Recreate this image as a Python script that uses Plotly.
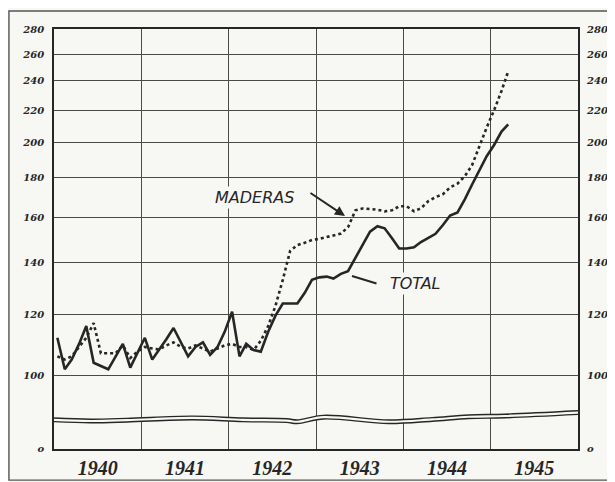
import plotly.graph_objects as go
import pandas as pd

# ---------------- data ----------------
months = pd.date_range("1940-01-01", periods=63, freq="MS") + pd.Timedelta(days=14)
months = [d.strftime("%Y-%m-%d") for d in months]

total = [112, 102, 105, 110, 116, 104, 103, 102, 106, 110, 102.5, 107,
         112, 105, 108, 111.5, 115.3, 110.5, 106, 109, 110.5, 106.5, 109, 114,
         121, 106, 110, 108, 107.5, 114, 119.5, 124, 124, 124, 128, 133,
         134, 134.3, 133.5, 135.4, 136.5, 142, 148, 153.5, 156, 155, 150.5, 146,
         146, 146.5, 148.8, 150.5, 152.5, 156.5, 161, 162.5, 169, 176.5, 184, 192,
         198.5, 206.5, 211]

maderas = [106, 105, 106, 109, 112, 117, 107, 107, 107, 109.5, 105.5, 107.5,
           109, 108.5, 108.2, 109.5, 110.5, 109, 108.5, 109.5, 108.5, 107.5, 108.5, 109.5,
           110, 109, 109, 108, 111, 116, 123, 133, 145, 147.5, 148.5, 149.7,
           150.2, 151, 152, 152.6, 155.5, 163.5, 164.4, 164.2, 163.8, 163, 163.5, 165.5,
           165.5, 163, 164.5, 168, 170, 171.5, 175, 177, 181, 187, 198, 209,
           220, 233, 247]

break_x = ["1940-01-01", "1940-06-01", "1940-11-01", "1941-08-01", "1942-03-01",
           "1942-09-01", "1942-10-15", "1943-02-01", "1943-11-01", "1944-05-01",
           "1944-10-01", "1945-03-01", "1946-01-01"]
break_y = [87.8, 87.5, 87.7, 88.3, 87.8, 87.6, 87.3, 88.5, 87.3, 87.9, 88.6, 88.8, 89.7]

y_ticks = [80.55, 100, 120, 140, 160, 180, 200, 220, 240, 260, 280]
y_labels = ["o", "100", "120", "140", "160", "180", "200", "220", "240", "260", "280"]

# ---------------- figure ----------------
INK = "#262626"
BG = "#f7f7f4"
GRID = "#4a4a4a"

fig = go.Figure()

# axis break (double wavy line)
fig.add_trace(go.Scatter(x=break_x, y=break_y, mode="lines",
                         line=dict(color=INK, width=5, shape="spline"),
                         hoverinfo="skip", showlegend=False))
fig.add_trace(go.Scatter(x=break_x, y=break_y, mode="lines",
                         line=dict(color=BG, width=2.2, shape="spline"),
                         hoverinfo="skip", showlegend=False))

fig.add_trace(go.Scatter(x=months, y=maderas, mode="lines", name="MADERAS",
                         line=dict(color=INK, width=2.6, dash="dot")))
fig.add_trace(go.Scatter(x=months, y=total, mode="lines", name="TOTAL",
                         line=dict(color=INK, width=2.6)))

# invisible trace for right axis
fig.add_trace(go.Scatter(x=[months[0]], y=[100], yaxis="y2", mode="markers",
                         marker=dict(opacity=0), hoverinfo="skip", showlegend=False))

yfont = dict(family="DejaVu Serif", size=10, color=INK, style="italic", weight="bold")
yrange = [1.9059, 2.4472]

# page body has an 8px margin: plot area lands at x 54..578, y 29..449
fig.update_layout(
    width=615, height=482,
    margin=dict(l=46, r=45, t=21, b=41, autoexpand=False),
    paper_bgcolor=BG, plot_bgcolor=BG,
    showlegend=False,
    xaxis=dict(type="date", range=["1940-01-01", "1946-01-01"],
               tick0="1940-01-01", dtick="M12", tickformat="%Y", automargin=False,
               ticklabelmode="period", showgrid=True, gridcolor=GRID, gridwidth=1.4,
               showline=True, linecolor=INK, linewidth=1.6, mirror=True,
               ticks="", ticklabelstandoff=0,
               tickfont=dict(family="Liberation Serif", size=20, color=INK,
                             style="italic", weight="bold")),
    yaxis=dict(type="log", range=yrange, tickmode="array", automargin=False,
               tickvals=y_ticks, ticktext=y_labels,
               showgrid=True, gridcolor=GRID, gridwidth=1.4,
               showline=True, linecolor=INK, linewidth=1.6, mirror=True,
               ticks="", ticklabelstandoff=6, tickfont=yfont),
    yaxis2=dict(type="log", range=yrange, tickmode="array", automargin=False,
                tickvals=y_ticks, ticktext=y_labels, overlaying="y", side="right",
                showgrid=False, ticks="", ticklabelstandoff=8, tickfont=yfont),
)

# heavy 100 line
fig.add_shape(type="line", xref="paper", yref="y", x0=0, x1=1, y0=2, y1=2,
              line=dict(color=INK, width=2.6))

# outer frame
fig.add_shape(type="rect", xref="paper", yref="paper",
              x0=-0.086, x1=1.09, y0=-0.074, y1=1.043,
              line=dict(color="#555", width=1.4))

lab_font = dict(family="DejaVu Sans", size=16, color=INK, style="italic")
fig.add_annotation(xref="paper", yref="paper", x=(213 - 54) / 524, xanchor="left",
                   y=(449 - 197) / 420, text="MADERAS", showarrow=False,
                   font=lab_font, bgcolor=BG)
fig.add_annotation(xref="paper", yref="paper", x=(388 - 54) / 524, xanchor="left",
                   y=(449 - 283) / 420, text="TOTAL", showarrow=False,
                   font=lab_font, bgcolor=BG)
fig.add_annotation(xref="paper", yref="paper", x=(345 - 54) / 524, y=(449 - 216) / 420,
                   ax=-36, ay=-24, text="", showarrow=True,
                   arrowhead=2, arrowsize=1, arrowwidth=2, arrowcolor=INK)
fig.add_annotation(xref="paper", yref="paper", x=(352 - 54) / 524, y=(449 - 276) / 420,
                   ax=26, ay=8, text="", showarrow=True,
                   arrowhead=0, arrowwidth=2, arrowcolor=INK)

fig.write_html("out.html")
